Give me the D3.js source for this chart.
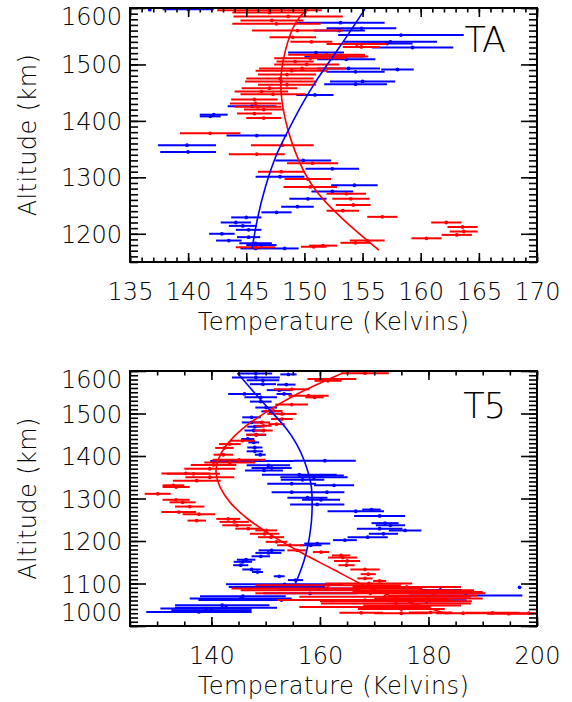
<!DOCTYPE html>
<html>
<head>
<meta charset="utf-8">
<script src="https://cdn.jsdelivr.net/npm/d3@7"></script>
<style>
    body { margin: 0; background: #fff; }
    text { font-family: "DejaVu Sans", sans-serif; font-weight: 200; fill: #000; }
</style>
</head>
<body>
<div id="chart"></div>
<script>
// ---- panel TA : [temperature K, altitude km, error K] ----
var taRed = [
    [147.0, 1596, 4.5], [147.0, 1592, 3.2], [148.6, 1585, 4.7], [147.2, 1578, 2.7],
    [147.6, 1572, 3.8], [149.4, 1560, 3.9], [149.0, 1548, 2.0], [150.6, 1540, 1.8],
    [154.5, 1536, 2.6], [154.9, 1531, 1.6], [151.9, 1517, 3.3], [153.0, 1514, 2.5],
    [150.5, 1511, 3.1], [149.2, 1505, 1.6], [150.2, 1500, 2.8], [149.8, 1493, 3.7],
    [148.9, 1489, 3.1], [148.5, 1482, 2.5], [147.9, 1475, 2.9], [148.0, 1470, 3.1],
    [148.5, 1464, 2.5], [147.0, 1458, 2.4], [146.3, 1452, 2.3], [147.3, 1447, 2.8],
    [145.7, 1438, 2.0], [145.8, 1431, 2.2], [146.0, 1425, 2.0], [146.5, 1420, 1.7],
    [145.7, 1413, 1.5], [146.5, 1405, 1.5], [141.9, 1378, 2.6], [148.1, 1357, 2.7],
    [145.9, 1341, 2.4], [150.7, 1325, 2.2], [148.0, 1310, 2.0], [150.3, 1297, 2.0],
    [150.5, 1283, 2.3], [153.6, 1271, 1.7], [154.0, 1262, 1.6], [154.2, 1251, 1.5],
    [153.3, 1241, 1.4], [156.7, 1230, 1.3], [162.2, 1220, 1.3], [163.6, 1212, 1.3],
    [163.7, 1204, 1.2], [163.1, 1198, 1.3], [160.5, 1192, 1.3], [155.4, 1188, 1.5],
    [154.4, 1184, 1.3], [151.6, 1179, 1.2], [150.8, 1177, 1.1], [145.8, 1176, 1.7]
];
var taBlue = [
    [136.7, 1597, 0.0], [140.0, 1598, 2.2], [153.1, 1574, 3.8], [154.9, 1564, 3.0],
    [153.0, 1560, 2.2], [158.3, 1552, 5.4], [157.4, 1540, 4.0], [157.1, 1537, 2.2],
    [159.3, 1530, 3.5], [151.0, 1521, 2.4], [152.6, 1514, 2.6], [153.6, 1509, 2.5],
    [153.8, 1493, 2.7], [158.0, 1491, 1.4], [154.4, 1487, 2.5], [155.0, 1470, 2.8],
    [154.4, 1465, 2.7], [150.9, 1446, 1.6], [145.5, 1426, 2.1], [142.2, 1411, 1.2],
    [141.9, 1408, 0.9], [145.9, 1374, 2.6], [139.9, 1357, 2.5], [140.0, 1345, 2.4],
    [149.9, 1330, 2.4], [152.4, 1315, 2.3], [147.9, 1301, 2.1], [154.3, 1286, 2.0],
    [152.4, 1275, 1.8], [150.3, 1262, 1.6], [149.4, 1248, 1.4], [147.6, 1238, 1.3],
    [145.0, 1229, 1.3], [144.1, 1220, 1.3], [144.7, 1214, 1.2], [145.2, 1207, 1.1],
    [142.9, 1200, 1.1], [145.2, 1194, 1.0], [143.5, 1188, 1.1], [145.8, 1183, 1.4],
    [146.3, 1180, 1.3], [145.8, 1174, 1.3], [148.3, 1174, 1.2]
];
var taRedFit = [[150.3, 1598], [149.2, 1579], [148.3, 1526], [147.8, 1467], [148.3, 1400],
    [149.2, 1343], [150.5, 1283], [153.3, 1224], [156.4, 1171]];
var taBlueFit = [[155.2, 1598], [152.9, 1526], [150.8, 1467], [149.0, 1400], [148.4, 1374],
    [147.6, 1343], [146.6, 1283], [145.9, 1224], [145.5, 1174]];
var taXTicks = [135, 140, 145, 150, 155, 160, 165, 170];
var taYTicks = [1200, 1300, 1400, 1500, 1600];

// ---- panel T5 ----
var t5Red = [
    [168.3, 1595, 4.4], [162.2, 1581, 4.5], [161.5, 1577, 2.5], [154.8, 1557, 3.3],
    [157.9, 1542, 3.7], [159.0, 1538, 1.7], [154.8, 1521, 3.0], [151.4, 1506, 1.7],
    [153.0, 1499, 2.7], [153.0, 1487, 2.0], [149.3, 1479, 1.5], [152.0, 1475, 1.5],
    [149.6, 1471, 1.5], [149.6, 1460, 1.7], [148.2, 1450, 1.8], [145.7, 1436, 2.3],
    [143.4, 1428, 2.0], [142.4, 1419, 1.7], [142.2, 1403, 1.8], [145.1, 1391, 4.9],
    [143.4, 1385, 4.7], [140.4, 1379, 4.2], [139.7, 1370, 4.7], [135.3, 1359, 4.5],
    [136.7, 1358, 4.9], [139.7, 1350, 4.5], [137.3, 1342, 4.4], [133.0, 1331, 2.0],
    [133.5, 1327, 2.5], [130.1, 1311, 2.4], [133.5, 1297, 2.5], [134.7, 1291, 2.4],
    [136.0, 1281, 2.7], [134.0, 1268, 3.2], [137.7, 1263, 3.0], [143.1, 1252, 2.2],
    [137.3, 1248, 1.7], [144.2, 1245, 2.7], [144.7, 1237, 2.7], [146.8, 1229, 2.4],
    [150.1, 1225, 2.0], [149.8, 1217, 2.7], [151.0, 1209, 2.4], [152.0, 1198, 2.0],
    [154.5, 1190, 2.4], [155.8, 1178, 1.8], [160.2, 1174, 1.5], [163.9, 1166, 1.7],
    [164.2, 1161, 2.7], [165.0, 1153, 2.4], [164.9, 1143, 1.5], [168.3, 1133, 2.7],
    [168.9, 1122, 1.4], [168.3, 1112, 1.4], [171.0, 1106, 1.2],
    [169.0, 1100, 8.0], [161.5, 1096, 13.4], [176.0, 1092, 10.0], [161.3, 1088, 17.6],
    [166.9, 1084, 21.5], [178.0, 1080, 12.0], [169.3, 1077, 21.2], [181.0, 1072, 8.0],
    [172.0, 1069, 15.8], [180.0, 1065, 10.0], [168.3, 1061, 16.1], [174.0, 1058, 14.0],
    [174.0, 1053, 13.8], [177.0, 1048, 9.0], [168.3, 1045, 12.1], [175.0, 1040, 8.0],
    [167.6, 1031, 4.0], [175.0, 1030, 5.0], [180.4, 1032, 4.0], [186.4, 1030, 5.0],
    [191.8, 1031, 5.0], [194.8, 1029, 4.0], [198.5, 1030, 3.0]
];
var t5Blue = [
    [148.2, 1594, 3.0], [154.2, 1592, 1.5], [148.2, 1585, 4.4], [149.5, 1578, 3.0],
    [149.5, 1569, 2.4], [153.8, 1568, 1.7], [152.5, 1555, 2.3], [146.1, 1546, 3.0],
    [153.4, 1546, 1.4], [149.1, 1538, 3.0], [149.1, 1528, 2.0], [150.1, 1514, 2.0],
    [150.9, 1505, 1.7], [147.4, 1491, 1.7], [147.4, 1479, 1.8], [148.0, 1469, 1.4],
    [147.8, 1460, 1.7], [148.3, 1450, 1.8], [146.7, 1440, 1.2], [147.8, 1432, 1.0],
    [148.0, 1420, 1.4], [148.0, 1411, 1.5], [149.0, 1403, 1.0], [160.9, 1389, 5.7],
    [147.5, 1388, 7.7], [150.5, 1378, 4.0], [151.1, 1372, 3.7], [149.7, 1366, 3.5],
    [156.2, 1356, 6.9], [160.2, 1354, 4.2], [158.9, 1350, 6.2], [156.8, 1344, 4.0],
    [154.8, 1335, 4.5], [162.6, 1331, 3.7], [154.8, 1315, 3.7], [161.3, 1315, 3.2],
    [157.7, 1302, 3.7], [160.2, 1297, 3.5], [159.5, 1286, 5.0], [169.5, 1274, 1.7],
    [166.6, 1270, 5.2], [171.0, 1259, 4.7], [172.0, 1242, 2.5], [173.0, 1237, 2.7],
    [171.0, 1229, 4.2], [175.7, 1225, 3.0], [171.7, 1217, 2.7], [168.8, 1209, 3.7],
    [164.6, 1202, 2.2], [159.5, 1194, 2.4], [158.3, 1190, 2.0], [151.1, 1178, 2.4],
    [150.5, 1172, 2.4], [149.1, 1164, 1.7], [146.4, 1156, 1.7], [145.8, 1151, 1.7],
    [145.4, 1143, 1.4], [147.4, 1133, 1.7], [148.5, 1127, 1.0], [152.5, 1117, 1.0],
    [155.5, 1108, 1.4],
    [153.5, 1098, 10.8], [152.1, 1092, 8.9], [196.8, 1091, 0.0], [159.9, 1088, 7.7],
    [182.2, 1085, 3.9], [158.2, 1077, 8.7], [186.9, 1072, 10.4], [145.8, 1070, 7.9],
    [145.4, 1065, 9.4], [180.0, 1064, 7.0], [152.9, 1061, 15.3], [179.7, 1058, 7.4],
    [142.0, 1049, 8.7], [142.7, 1043, 9.4], [139.0, 1041, 8.4], [140.0, 1037, 7.4],
    [137.7, 1033, 9.7]
];
var t5RedFit = [[164.2, 1595], [155.5, 1546], [150.4, 1506], [145.7, 1467], [142.7, 1428],
    [141.0, 1389], [140.7, 1360], [141.4, 1327], [143.4, 1288], [146.8, 1249], [151.5, 1209],
    [156.8, 1170], [162.9, 1131], [168.3, 1092], [175.5, 1060], [183.5, 1028]];
var t5BlueFit = [[144.8, 1595], [148.1, 1546], [150.9, 1506], [153.8, 1467], [155.8, 1428],
    [157.2, 1389], [158.1, 1350], [158.5, 1327], [158.6, 1288], [158.5, 1249], [158.1, 1209],
    [157.5, 1170], [156.5, 1131], [155.5, 1100]];
var t5XTicks = [140, 160, 180, 200];
var t5YTicks = [1000, 1100, 1200, 1300, 1400, 1500, 1600];

var width = 572,
    height = 702;

var svg = d3.select("#chart").append("svg")
    .attr("width", width)
    .attr("height", height);

function drawPanel(p) {
    var x = d3.scaleLinear().domain(p.xDomain).range([p.left, p.right]);
    var y = d3.scaleLinear().domain(p.yDomain).range([p.bottom, p.top]);

    svg.append("clipPath").attr("id", "clip-" + p.name)
        .append("rect")
        .attr("x", p.left).attr("y", p.top)
        .attr("width", p.right - p.left).attr("height", p.bottom - p.top);

    var plot = svg.append("g").attr("clip-path", "url(#clip-" + p.name + ")");

    // error bars and points
    p.series.forEach(function(s) {
        var sg = plot.append("g");
        sg.selectAll("line").data(s.points).enter().append("line")
            .attr("x1", d => x(d[0] - d[2]))
            .attr("x2", d => x(d[0] + d[2]))
            .attr("y1", d => y(d[1]))
            .attr("y2", d => y(d[1]))
            .attr("stroke", s.color)
            .attr("stroke-width", 2);
        sg.selectAll("circle").data(s.points).enter().append("circle")
            .attr("cx", d => x(d[0]))
            .attr("cy", d => y(d[1]))
            .attr("r", 1.9)
            .attr("fill", s.color);
    });

    // model curves
    var line = d3.line()
        .x(d => x(d[0]))
        .y(d => y(d[1]))
        .curve(d3.curveBasis);
    p.fits.forEach(function(f) {
        plot.append("path").datum(f.points)
            .attr("d", line)
            .attr("fill", "none")
            .attr("stroke", f.color)
            .attr("stroke-width", 1.6);
    });

    // axes, ticks pointing inwards on all four sides
    var xMinor = d3.range(p.xDomain[0], p.xDomain[1] + 0.001, p.xMinorStep);
    var yMinor = d3.range(p.yDomain[0], p.yDomain[1] + 0.001, 10);

    function addAxis(axis, tx, ty) {
        var g = svg.append("g")
            .attr("transform", "translate(" + tx + "," + ty + ")")
            .call(axis);
        g.select(".domain").remove();
        g.selectAll("line").attr("stroke-width", 1.6);
        g.attr("font-size", 24).attr("font-family", "DejaVu Sans, sans-serif");
        return g;
    }

    addAxis(d3.axisBottom(x).tickValues(p.xTicks).tickSize(-9).tickPadding(21)
        .tickFormat(d3.format("d")), 0, p.bottom);
    addAxis(d3.axisBottom(x).tickValues(xMinor).tickSize(-4.5).tickFormat(""), 0, p.bottom);
    addAxis(d3.axisTop(x).tickValues(p.xTicks).tickSize(-9).tickFormat(""), 0, p.top);
    addAxis(d3.axisTop(x).tickValues(xMinor).tickSize(-4.5).tickFormat(""), 0, p.top);

    var left = addAxis(d3.axisLeft(y).tickValues(p.yTicks).tickSize(-16).tickPadding(8)
        .tickFormat(d3.format("d")), p.left, 0);
    // keep end labels inside the frame height
    left.selectAll("text")
        .attr("dy", null)
        .attr("y", function(d) {
            var yy = y(d);
            var c = Math.max(p.top + 8, Math.min(p.bottom - 14, yy));
            return c - yy + 8.5;
        });
    addAxis(d3.axisLeft(y).tickValues(yMinor).tickSize(-8).tickFormat(""), p.left, 0);
    addAxis(d3.axisRight(y).tickValues(p.yTicks).tickSize(-16).tickFormat(""), p.right, 0);
    addAxis(d3.axisRight(y).tickValues(yMinor).tickSize(-8).tickFormat(""), p.right, 0);

    // frame
    svg.append("rect")
        .attr("x", p.left).attr("y", p.top)
        .attr("width", p.right - p.left).attr("height", p.bottom - p.top)
        .attr("fill", "none")
        .attr("stroke", "#000")
        .attr("stroke-width", 2);

    svg.append("text")
        .attr("x", (p.left + p.right) / 2)
        .attr("y", p.bottom + 68)
        .attr("text-anchor", "middle")
        .attr("font-size", 24)
        .attr("letter-spacing", 0.4)
        .text("Temperature (Kelvins)");

    svg.append("text")
        .attr("transform", "translate(36," + (p.top + p.bottom) / 2 + ") rotate(-90)")
        .attr("text-anchor", "middle")
        .attr("font-size", 24)
        .attr("letter-spacing", 0.4)
        .text("Altitude (km)");

    svg.append("text")
        .attr("x", p.right - 32)
        .attr("y", p.top + p.labelDy)
        .attr("text-anchor", "end")
        .attr("font-size", 35)
        .attr("letter-spacing", -1)
        .text(p.label);
}

drawPanel({
    name: "ta",
    label: "TA",
    labelDy: 44,
    left: 130, right: 537, top: 8, bottom: 262,
    xDomain: [135, 170], yDomain: [1150, 1600],
    xTicks: taXTicks, yTicks: taYTicks, xMinorStep: 1,
    series: [{points: taBlue, color: "#0000ff"}, {points: taRed, color: "#ff0000"}],
    fits: [{points: taRedFit, color: "#ff0000"}, {points: taBlueFit, color: "#0000ff"}]
});

drawPanel({
    name: "t5",
    label: "T5",
    labelDy: 47,
    left: 130, right: 537, top: 371, bottom: 626,
    xDomain: [125, 200], yDomain: [1000, 1600],
    xTicks: t5XTicks, yTicks: t5YTicks, xMinorStep: 5,
    series: [{points: t5Blue, color: "#0000ff"}, {points: t5Red, color: "#ff0000"}],
    fits: [{points: t5RedFit, color: "#ff0000"}, {points: t5BlueFit, color: "#0000ff"}]
});
</script>
</body>
</html>
